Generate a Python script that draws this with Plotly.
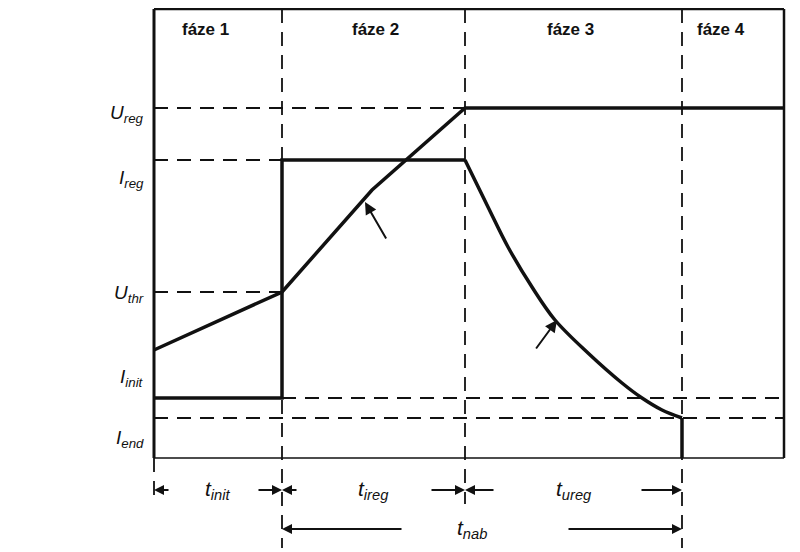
import plotly.graph_objects as go

# --- data (time units / value units, 0 = lower-left corner of the frame) ---
phase_bounds = [0.0, 12.8, 31.1, 52.8, 63.0]
phase_names = ["fáze 1", "fáze 2", "fáze 3", "fáze 4"]
frame_top = 44.9

level_names = ["U_reg", "I_reg", "U_thr", "I_init", "I_end"]
level_values = [35.0, 29.8, 16.6, 6.0, 4.0]
level_labels = ["<i>U</i><sub><i>reg</i></sub>", "<i>I</i><sub><i>reg</i></sub>",
                "<i>U</i><sub><i>thr</i></sub>", "<i>I</i><sub><i>init</i></sub>",
                "<i>I</i><sub><i>end</i></sub>"]

# charging voltage
volt_t = [0.0, 12.8, 21.8, 31.1, 63.0]
volt_v = [10.8, 16.6, 26.8, 35.0, 35.0]

# charging current: step part, then the decay in phase 3
curr_t = [0.0, 12.8, 12.8, 31.1, 33.4, 35.4, 37.8, 40.1, 43.4, 46.8, 48.8, 50.8, 52.8, 52.8]
curr_v = [6.0, 6.0, 29.8, 29.8, 25.1, 21.1, 17.1, 13.8, 10.5, 7.5, 6.0, 4.8, 4.0, 0.0]

# little arrows pointing at the curves: (tail_t, tail_v, tip_t, tip_v)
curve_arrows = [(23.3, 21.8, 21.1, 25.6), (38.1, 10.8, 40.3, 13.8)]

# time intervals below the chart: (label, start, end, row)
intervals = [("<i>t</i><sub><i>init</i></sub>", 0.0, 12.8, 1),
             ("<i>t</i><sub><i>ireg</i></sub>", 12.8, 31.1, 1),
             ("<i>t</i><sub><i>ureg</i></sub>", 31.1, 52.8, 1),
             ("<i>t</i><sub><i>nab</i></sub>", 12.8, 52.8, 2)]

# --- layout constants ---
ROW_Y = {1: -3.2, 2: -7.1}
ARROW_LEN = {1: (1.6, 2.5, 1.6, 3.5, 3.0, 4.2), 2: (12.1, 11.5)}
EXT_DOWN = [-4.4, -9.0, -4.6, -9.0]
PHASE_SHIFT = [-1.3, 0.2, -0.3, -1.2]
FONT = "Liberation Sans, Arial, sans-serif"
DASH = "14px,9px"
BLACK = "#111"

fig = go.Figure()


def seg(xs, ys, width=1.8, dash=None, shape="linear"):
    fig.add_trace(go.Scatter(x=xs, y=ys, mode="lines", hoverinfo="skip",
                             line=dict(color=BLACK, width=width, dash=dash, shape=shape)))


# frame
t_end = phase_bounds[-1]
seg([0, 0], [0, frame_top], width=3)
seg([0, t_end], [frame_top, frame_top], width=2.5)
seg([t_end, t_end], [frame_top, 0], width=2.5)
seg([0, t_end], [0, 0], width=1.5)

# vertical phase boundaries (dashed, extended below the frame)
seg([0, 0], [0, EXT_DOWN[0]], width=1.8, dash=DASH)
for b, low in zip(phase_bounds[1:4], EXT_DOWN[1:]):
    seg([b, b], [frame_top, low], width=1.8, dash=DASH)

# horizontal guide levels
lv = dict(zip(level_names, level_values))
seg([0, phase_bounds[2]], [lv["U_reg"]] * 2, dash=DASH)
seg([0, phase_bounds[1]], [lv["I_reg"]] * 2, dash=DASH)
seg([0, phase_bounds[1]], [lv["U_thr"]] * 2, dash=DASH)
seg([phase_bounds[1], t_end], [lv["I_init"]] * 2, dash=DASH)
seg([0, t_end], [lv["I_end"]] * 2, dash=DASH)

# curves
seg(volt_t, volt_v, width=3.5)
seg(curr_t[:4], curr_v[:4], width=3.5)
seg(curr_t[3:-1], curr_v[3:-1], width=3.5, shape="spline")
seg(curr_t[-2:], curr_v[-2:], width=3.5)

ann = []
for tx, ty, hx, hy in curve_arrows:
    ann.append(dict(x=hx, y=hy, ax=tx, ay=ty, xref="x", yref="y", axref="x", ayref="y",
                    text="", showarrow=True, arrowhead=2, arrowsize=1.2,
                    arrowwidth=2, arrowcolor=BLACK))

# phase titles
for i, name in enumerate(phase_names):
    ann.append(dict(x=(phase_bounds[i] + phase_bounds[i + 1]) / 2 + PHASE_SHIFT[i], y=42.9,
                    text=f"<b>{name}</b>", showarrow=False,
                    font=dict(family=FONT, size=17, color=BLACK)))

# level labels on the left
label_shift = [-0.6, -1.9, -0.2, 2.0, -2.1]
for text, v, dv in zip(level_labels, level_values, label_shift):
    ann.append(dict(x=-0.8, y=v + dv, text=text, xanchor="right", showarrow=False,
                    font=dict(family=FONT, size=19, color=BLACK)))

# time dimension lines
row1 = phase_bounds[:4]
L1 = ARROW_LEN[1]
dims = [(row1[0] + L1[0], row1[0], 1), (row1[1] - L1[1], row1[1], 1), (row1[1] + L1[2], row1[1], 1),
        (row1[2] - L1[3], row1[2], 1), (row1[2] + L1[4], row1[2], 1), (row1[3] - L1[5], row1[3], 1),
        (row1[1] + ARROW_LEN[2][0], row1[1], 2), (row1[3] - ARROW_LEN[2][1], row1[3], 2)]
for tail, tip, r in dims:
    ann.append(dict(x=tip, y=ROW_Y[r], ax=tail, ay=ROW_Y[r], xref="x", yref="y", axref="x",
                    ayref="y", text="", showarrow=True, arrowhead=2, arrowsize=1,
                    arrowwidth=2, arrowcolor=BLACK))
for text, a, b, r in intervals:
    ann.append(dict(x=(a + b) / 2 - (1.0 if r == 2 else 0), y=ROW_Y[r], text=text, showarrow=False,
                    font=dict(family=FONT, size=21, color=BLACK)))

# the page body adds an 8px offset, so the ranges are shifted to compensate
fig.update_layout(
    width=800, height=552, showlegend=False, annotations=ann,
    paper_bgcolor="white", plot_bgcolor="white",
    margin=dict(l=0, r=0, t=0, b=0),
    xaxis=dict(range=[-14.6, 65.4], visible=False, fixedrange=True),
    yaxis=dict(range=[-10.2, 45.0], visible=False, fixedrange=True))

fig.write_html("out.html")
